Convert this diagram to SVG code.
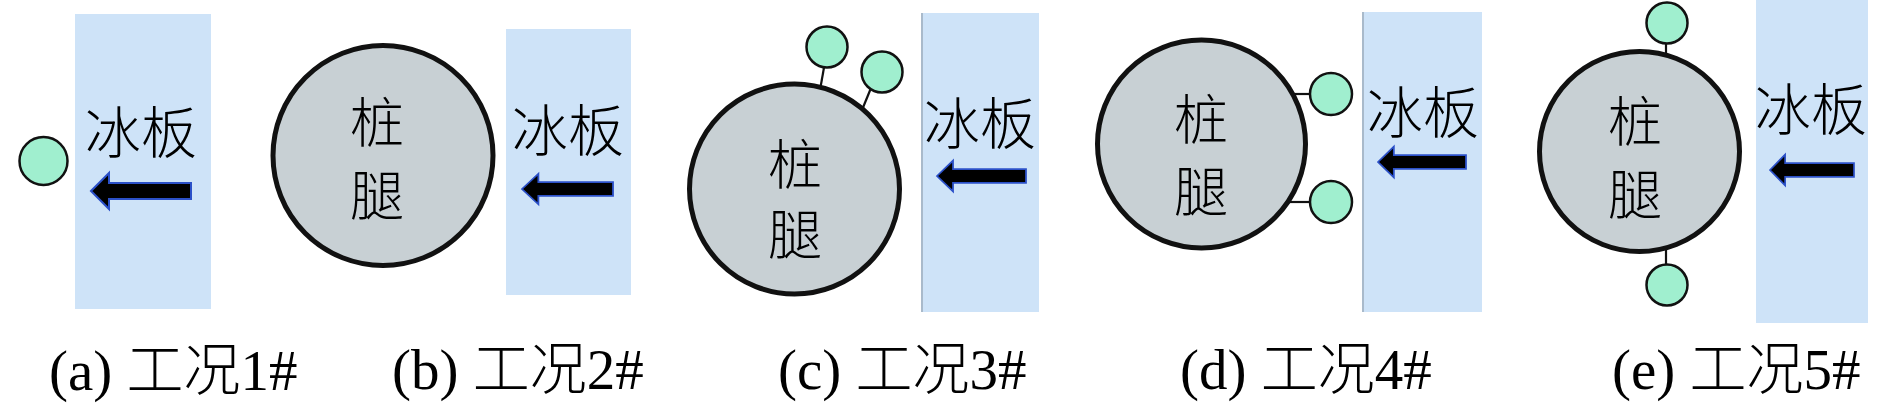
<svg xmlns="http://www.w3.org/2000/svg" width="1890" height="408" viewBox="0 0 1890 408">
<style>
.ice{fill:#cee3f8}
.iceb{stroke:#a9bacb;stroke-width:2}
.pile{fill:#c8d0d4;stroke:#111;stroke-width:5}
.sm{fill:#a0efcf;stroke:#111;stroke-width:2.5}
.stem{stroke:#111;stroke-width:2.2;fill:none}
.arr{fill:#000;stroke:#2b50c8;stroke-width:2;stroke-linejoin:miter}
.cj{font-family:"Noto Sans CJK SC","Noto Sans CJK JP",sans-serif;font-weight:300;fill:#000;text-anchor:middle}
.ice-t{font-size:56px}
.vt{font-family:"Noto Sans CJK SC","Noto Sans CJK JP",sans-serif;font-weight:300;fill:#000;font-size:54px;writing-mode:vertical-rl;text-orientation:upright;text-anchor:start}
.cap{font-family:"Liberation Serif","Noto Sans CJK SC",serif;font-size:57px;fill:#000;font-weight:300}
</style>
<defs>
<path id="arrow" class="arr" d="M0,0 L18,-18 L18,-8 L100,-8 L100,8 L18,8 L18,18 Z"/>
</defs>

<g id="connectors">
<line class="stem" x1="825" y1="62" x2="820" y2="90"/>
<line class="stem" x1="871" y1="88" x2="862" y2="110"/>
<line class="stem" x1="1290" y1="94" x2="1312" y2="94"/>
<line class="stem" x1="1285" y1="202" x2="1312" y2="202"/>
<line class="stem" x1="1666" y1="42" x2="1666" y2="60"/>
<line class="stem" x1="1666" y1="243" x2="1666" y2="266"/>
</g>

<g id="panel-a">
<rect class="ice" x="75" y="14" width="136" height="295"/>
<text class="cj ice-t" x="141" y="153">冰板</text>
<use href="#arrow" transform="translate(91,191)"/>
<circle id="a-ball" class="sm" cx="43.5" cy="161" r="24"/>
<text class="cap" x="49" y="390">(a) 工况1#</text>
</g>

<g id="panel-b">
<circle id="b-pile" class="pile" cx="383" cy="155.5" r="110"/>
<text class="vt" x="377" y="95" letter-spacing="19">桩腿</text>
<rect class="ice" x="506" y="29" width="125" height="266"/>
<text class="cj ice-t" x="568" y="151">冰板</text>
<use href="#arrow" transform="translate(522,189) scale(0.91,0.85)"/>
<text class="cap" x="392" y="389">(b) 工况2#</text>
</g>

<g id="panel-c">
<circle id="c-pile" class="pile" cx="794.5" cy="189" r="105"/>
<text class="vt" x="795" y="137" letter-spacing="16">桩腿</text>
<circle class="sm" cx="827" cy="47" r="20.5"/>
<circle class="sm" cx="882" cy="72" r="20.5"/>
<rect class="ice" x="921" y="13" width="118" height="299"/>
<line class="iceb" x1="922" y1="13" x2="922" y2="312"/>
<text class="cj ice-t" x="980" y="144">冰板</text>
<use href="#arrow" transform="translate(937,176) scale(0.89,0.86)"/>
<text class="cap" x="778" y="389">(c) 工况3#</text>
</g>

<g id="panel-d">
<circle id="d-pile" class="pile" cx="1201.5" cy="144" r="104"/>
<text class="vt" x="1201" y="92" letter-spacing="18">桩腿</text>
<circle class="sm" cx="1331" cy="94" r="21"/>
<circle class="sm" cx="1331" cy="202" r="21"/>
<rect class="ice" x="1362" y="12" width="120" height="300"/>
<line class="iceb" x1="1363" y1="12" x2="1363" y2="312"/>
<text class="cj ice-t" x="1423" y="133">冰板</text>
<use href="#arrow" transform="translate(1378,162) scale(0.88,0.86)"/>
<text class="cap" x="1180" y="389">(d) 工况4#</text>
</g>

<g id="panel-e">
<circle id="e-pile" class="pile" cx="1639.5" cy="151.5" r="100"/>
<text class="vt" x="1635" y="94" letter-spacing="19">桩腿</text>
<circle class="sm" cx="1667" cy="23" r="20.5"/>
<circle class="sm" cx="1667" cy="285" r="20.5"/>
<rect class="ice" x="1756" y="0" width="112" height="323"/>
<text class="cj ice-t" x="1811" y="130">冰板</text>
<use href="#arrow" transform="translate(1770,170) scale(0.84,0.86)"/>
<text class="cap" x="1612" y="389">(e) 工况5#</text>
</g>
</svg>
